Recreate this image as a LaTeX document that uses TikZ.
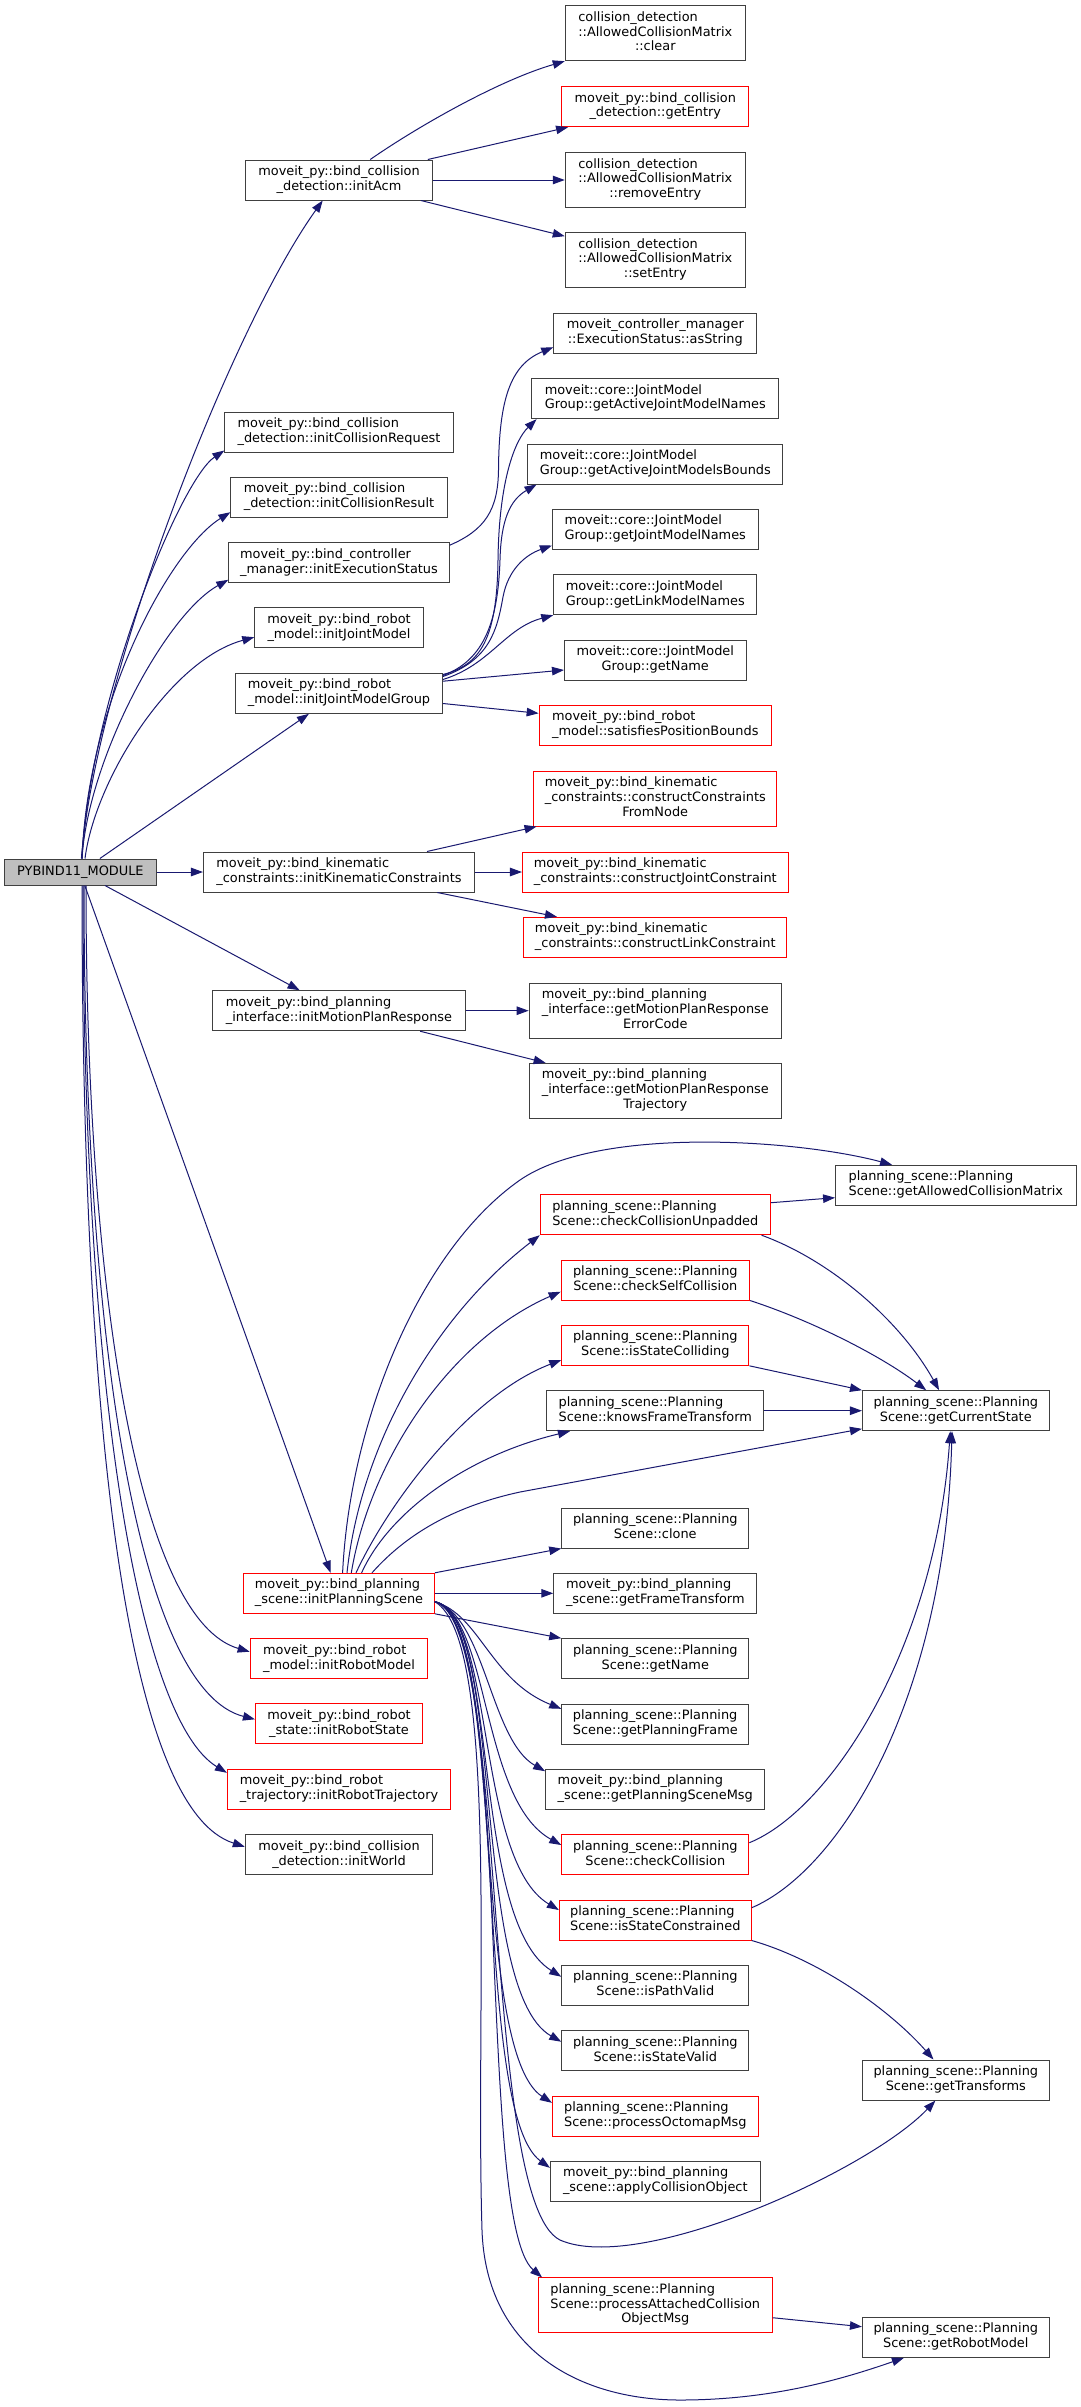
\documentclass[tikz,border=0pt]{standalone}
\usepackage{fontspec}
\setmainfont{DejaVu Sans}
\usetikzlibrary{arrows.meta}
\definecolor{navyc}{HTML}{191970}
\definecolor{bdr}{HTML}{404040}
\definecolor{rootfill}{HTML}{BFBFBF}
\newcommand\cgL[2]{\begin{tabular}{@{}l@{}}#1\\\multicolumn{1}{@{}c@{}}{#2}\end{tabular}}
\newcommand\cgLL[3]{\begin{tabular}{@{}l@{}}#1\\#2\\\multicolumn{1}{@{}c@{}}{#3}\end{tabular}}
\newcommand\cgN[7]{\node[#2, minimum width=#5pt, minimum height=#6pt] (#1) at (#3,#4) {#7};}
\begin{document}
\begin{tikzpicture}[x=1pt,y=-1pt,
 bx/.style={draw=bdr, line width=1pt, fill=white, inner sep=0pt, font={\fontsize{12.9}{14.7}\selectfont}, text=black},
 bxr/.style={bx, draw=red},
 bxroot/.style={bx, fill=rootfill},
 cg/.style={draw=navyc, line width=1pt, -{Triangle[length=12pt,width=8.5pt]}}]
\path[use as bounding box, fill=white] (0,0) rectangle (1081,2407);

% ---- column 0/1
\cgN{root}{bxroot}{80.4}{872}{151.2}{26}{PYBIND11\_MODULE}
\cgN{initAcm}{bx}{339}{180}{186.7}{40}{\cgL{moveit\_py::bind\_collision}{\_detection::initAcm}}
\cgN{initCReq}{bx}{339}{432}{228.3}{40}{\cgL{moveit\_py::bind\_collision}{\_detection::initCollisionRequest}}
\cgN{initCRes}{bx}{339}{497.3}{216.3}{40}{\cgL{moveit\_py::bind\_collision}{\_detection::initCollisionResult}}
\cgN{initES}{bx}{339}{562.7}{220.4}{40}{\cgL{moveit\_py::bind\_controller}{\_manager::initExecutionStatus}}
\cgN{initJM}{bx}{339}{627.8}{168.5}{40}{\cgL{moveit\_py::bind\_robot}{\_model::initJointModel}}
\cgN{initJMG}{bx}{339}{693.3}{206.9}{40}{\cgL{moveit\_py::bind\_robot}{\_model::initJointModelGroup}}
\cgN{initKC}{bx}{339}{872}{271.1}{40}{\cgL{moveit\_py::bind\_kinematic}{\_constraints::initKinematicConstraints}}
\cgN{initMPR}{bx}{339}{1010.7}{252.1}{40}{\cgL{moveit\_py::bind\_planning}{\_interface::initMotionPlanResponse}}
\cgN{initPS}{bxr}{339}{1593.3}{190.8}{40}{\cgL{moveit\_py::bind\_planning}{\_scene::initPlanningScene}}
\cgN{initRM}{bxr}{339}{1658.7}{177.7}{40}{\cgL{moveit\_py::bind\_robot}{\_model::initRobotModel}}
\cgN{initRS}{bxr}{339}{1723.9}{167.1}{40}{\cgL{moveit\_py::bind\_robot}{\_state::initRobotState}}
\cgN{initRT}{bxr}{339}{1789.3}{223.2}{40}{\cgL{moveit\_py::bind\_robot}{\_trajectory::initRobotTrajectory}}
\cgN{initW}{bx}{339}{1854.7}{187.4}{40}{\cgL{moveit\_py::bind\_collision}{\_detection::initWorld}}

% ---- column 2
\cgN{clear}{bx}{655.3}{33.2}{180.1}{55}{\cgLL{collision\_detection}{::AllowedCollisionMatrix}{::clear}}
\cgN{getEntry}{bxr}{655.3}{106.7}{186.7}{40}{\cgL{moveit\_py::bind\_collision}{\_detection::getEntry}}
\cgN{removeEntry}{bx}{655.3}{180}{180.1}{54.6}{\cgLL{collision\_detection}{::AllowedCollisionMatrix}{::removeEntry}}
\cgN{setEntry}{bx}{655.3}{260}{180.1}{54.6}{\cgLL{collision\_detection}{::AllowedCollisionMatrix}{::setEntry}}
\cgN{asString}{bx}{655.3}{333.3}{203.1}{40}{\cgL{moveit\_controller\_manager}{::ExecutionStatus::asString}}
\cgN{gAJMN}{bx}{655.3}{398.7}{246.7}{40}{\cgL{moveit::core::JointModel}{Group::getActiveJointModelNames}}
\cgN{gAJMB}{bx}{655.3}{464}{254.9}{40}{\cgL{moveit::core::JointModel}{Group::getActiveJointModelsBounds}}
\cgN{gJMN}{bx}{655.3}{529.3}{205.7}{40}{\cgL{moveit::core::JointModel}{Group::getJointModelNames}}
\cgN{gLMN}{bx}{655.3}{594.7}{203.1}{40}{\cgL{moveit::core::JointModel}{Group::getLinkModelNames}}
\cgN{gNameJ}{bx}{655.3}{660}{181.6}{40}{\cgL{moveit::core::JointModel}{Group::getName}}
\cgN{satPB}{bxr}{655.3}{725.3}{232.3}{40}{\cgL{moveit\_py::bind\_robot}{\_model::satisfiesPositionBounds}}
\cgN{cCFN}{bxr}{655.3}{798.7}{243.1}{54.7}{\cgLL{moveit\_py::bind\_kinematic}{\_constraints::constructConstraints}{FromNode}}
\cgN{cJC}{bxr}{655.3}{872}{265.7}{40}{\cgL{moveit\_py::bind\_kinematic}{\_constraints::constructJointConstraint}}
\cgN{cLC}{bxr}{655.3}{937.3}{263.1}{40}{\cgL{moveit\_py::bind\_kinematic}{\_constraints::constructLinkConstraint}}
\cgN{errC}{bx}{655.3}{1010.7}{252.3}{54.7}{\cgLL{moveit\_py::bind\_planning}{\_interface::getMotionPlanResponse}{ErrorCode}}
\cgN{traj}{bx}{655.3}{1090.7}{252.3}{54.7}{\cgLL{moveit\_py::bind\_planning}{\_interface::getMotionPlanResponse}{Trajectory}}
\cgN{cCU}{bxr}{655.3}{1214.7}{230.1}{40}{\cgL{planning\_scene::Planning}{Scene::checkCollisionUnpadded}}
\cgN{cSC}{bxr}{655.3}{1280}{188.3}{40}{\cgL{planning\_scene::Planning}{Scene::checkSelfCollision}}
\cgN{iSColl}{bxr}{655.3}{1345.3}{187.1}{40}{\cgL{planning\_scene::Planning}{Scene::isStateColliding}}
\cgN{kFT}{bx}{655.3}{1410.7}{217.1}{40}{\cgL{planning\_scene::Planning}{Scene::knowsFrameTransform}}
\cgN{clone}{bx}{655.3}{1528}{187.1}{40}{\cgL{planning\_scene::Planning}{Scene::clone}}
\cgN{gFT}{bx}{655.3}{1593.3}{203.1}{40}{\cgL{moveit\_py::bind\_planning}{\_scene::getFrameTransform}}
\cgN{gNameP}{bx}{655.3}{1658.7}{187.1}{40}{\cgL{planning\_scene::Planning}{Scene::getName}}
\cgN{gPF}{bx}{655.3}{1724}{187.1}{40}{\cgL{planning\_scene::Planning}{Scene::getPlanningFrame}}
\cgN{gPSM}{bx}{655.3}{1789.3}{219.3}{40}{\cgL{moveit\_py::bind\_planning}{\_scene::getPlanningSceneMsg}}
\cgN{cColl}{bxr}{655.3}{1854.7}{187.1}{40}{\cgL{planning\_scene::Planning}{Scene::checkCollision}}
\cgN{iSCons}{bxr}{655.3}{1920}{191.9}{40}{\cgL{planning\_scene::Planning}{Scene::isStateConstrained}}
\cgN{iPV}{bx}{655.3}{1985.3}{187.1}{40}{\cgL{planning\_scene::Planning}{Scene::isPathValid}}
\cgN{iSV}{bx}{655.3}{2050.7}{187.1}{40}{\cgL{planning\_scene::Planning}{Scene::isStateValid}}
\cgN{pOM}{bxr}{655.3}{2116}{205.7}{40}{\cgL{planning\_scene::Planning}{Scene::processOctomapMsg}}
\cgN{aCO}{bx}{655.3}{2181.3}{209.7}{40}{\cgL{moveit\_py::bind\_planning}{\_scene::applyCollisionObject}}
\cgN{pACOM}{bxr}{655.3}{2305.3}{233.8}{54.7}{\cgLL{planning\_scene::Planning}{Scene::processAttachedCollision}{ObjectMsg}}

% ---- column 3
\cgN{gACM}{bx}{955.8}{1185.3}{240.5}{40}{\cgL{planning\_scene::Planning}{Scene::getAllowedCollisionMatrix}}
\cgN{gCS}{bx}{955.8}{1410.7}{186.7}{40}{\cgL{planning\_scene::Planning}{Scene::getCurrentState}}
\cgN{gT}{bx}{955.8}{2080}{186.7}{40}{\cgL{planning\_scene::Planning}{Scene::getTransforms}}
\cgN{gRM}{bx}{955.8}{2337.3}{186.7}{40}{\cgL{planning\_scene::Planning}{Scene::getRobotModel}}

% ---- edges from root
\draw[cg] ([xshift=1pt]root.north) .. controls (95,680) and (230,330) .. ([xshift=-16.3pt]initAcm.south);
\draw[cg] ([xshift=1.6pt]root.north) .. controls (90,700) and (180,480) .. ([yshift=2pt]initCReq.south west);
\draw[cg] ([xshift=1.6pt]root.north) .. controls (88,700) and (170,550) .. ([yshift=5.6pt]initCRes.south west);
\draw[cg] ([xshift=1.6pt]root.north) .. controls (88,760) and (165,615) .. ([yshift=3.4pt]initES.south west);
\draw[cg] ([xshift=4.6pt]root.north) .. controls (95,780) and (170,660) .. ([yshift=11.1pt]initJM.south west);
\draw[cg] ([xshift=19.5pt]root.north) -- ([xshift=-30.1pt]initJMG.south);
\draw[cg] (root.east) -- (initKC.west);
\draw[cg] ([xshift=24.6pt]root.south) -- ([xshift=-39.4pt]initMPR.north);
\draw[cg] ([xshift=4.4pt]root.south) -- ([xshift=-8.4pt]initPS.north);
\draw[cg] ([xshift=5.6pt]root.south) .. controls (86,1300) and (140,1620) .. ([yshift=7pt]initRM.west);
\draw[cg] ([xshift=3.6pt]root.south) .. controls (84,1350) and (140,1690) .. ([yshift=4.6pt]initRS.west);
\draw[cg] ([xshift=2.6pt]root.south) .. controls (83,1400) and (140,1720) .. ([yshift=-4pt]initRT.north west);
\draw[cg] ([xshift=1.6pt]root.south) .. controls (82,1450) and (130,1810) .. ([yshift=8pt]initW.west);

% ---- initAcm
\draw[cg] ([xshift=31.2pt]initAcm.north) .. controls (420,125) and (500,80) .. (clear.south west);
\draw[cg] ([xshift=-5pt]initAcm.north east) -- ([xshift=6.6pt]getEntry.south west);
\draw[cg] (initAcm.east) -- (removeEntry.west);
\draw[cg] ([xshift=-12pt]initAcm.south east) -- ([yshift=-4pt]setEntry.north west);

% ---- initExecutionStatus
\draw[cg] ([yshift=-3pt]initES.north east) .. controls (485,530) and (498,510) .. (498.5,470) .. controls (499,400) and (510,365) .. ([yshift=6.6pt]asString.south west);

% ---- initJointModelGroup
\draw[cg] ([yshift=-1.7pt]initJMG.north east) .. controls (480,665) and (497,640) .. (498,560) .. controls (499,480) and (515,440) .. ([xshift=5.1pt]gAJMN.south west);
\draw[cg] ([yshift=-2.7pt]initJMG.north east) .. controls (485,660) and (498,620) .. (500,560) .. controls (501,520) and (510,500) .. ([xshift=9.2pt]gAJMB.south west);
\draw[cg] ([yshift=-3.7pt]initJMG.north east) .. controls (490,660) and (497,630) .. (503,597) .. controls (508,570) and (525,555) .. ([yshift=4.3pt]gJMN.south west);
\draw[cg] ([yshift=-6.7pt]initJMG.north east) .. controls (490,665) and (505,628) .. (gLMN.south west);
\draw[cg] ([yshift=-8.4pt]initJMG.north east) -- ([yshift=-10pt]gNameJ.west);
\draw[cg] ([yshift=-30.7pt]initJMG.north east) -- ([yshift=12pt]satPB.west);

% ---- initKinematicConstraints
\draw[cg] ([xshift=88pt]initKC.north) -- ([xshift=3.3pt]cCFN.south west);
\draw[cg] (initKC.east) -- (cJC.west);
\draw[cg] ([xshift=98.3pt]initKC.south) -- ([xshift=33.7pt]cLC.north west);

% ---- initMotionPlanResponse
\draw[cg] (initMPR.east) -- (errC.west);
\draw[cg] ([xshift=81.1pt]initMPR.south) -- ([xshift=17pt]traj.north west);

% ---- initPlanningScene
\draw[cg] ([xshift=3.6pt]initPS.north) .. controls (350,1420) and (420,1250) .. (520,1180) .. controls (600,1125) and (800,1140) .. ([xshift=57pt]gACM.north west);
\draw[cg] ([xshift=8pt]initPS.north) .. controls (360,1450) and (430,1320) .. (cCU.south west);
\draw[cg] ([xshift=12.3pt]initPS.north) .. controls (370,1460) and (450,1340) .. ([yshift=-11.7pt]cSC.west);
\draw[cg] ([xshift=17pt]initPS.north) .. controls (390,1500) and (470,1395) .. ([yshift=-14.7pt]iSColl.west);
\draw[cg] ([xshift=22.6pt]initPS.north) .. controls (390,1510) and (470,1455) .. ([xshift=23.7pt]kFT.south west);
\draw[cg] ([xshift=33pt]initPS.north) .. controls (410,1530) and (460,1505) .. (520,1492) -- ([yshift=2.4pt]gCS.south west);
\draw[cg] (initPS.north east) -- (clone.south west);
\draw[cg] (initPS.east) -- (gFT.west);
\draw[cg] (initPS.south east) -- (gNameP.north west);
\draw[cg] ([yshift=-8.4pt]initPS.east) .. controls (480,1615) and (490,1680) .. ([yshift=-5.3pt]gPF.north west);
\draw[cg] ([yshift=-8.4pt]initPS.east) .. controls (485,1615) and (490,1740) .. ([yshift=-2.4pt]gPSM.north west);
\draw[cg] ([yshift=-8.4pt]initPS.east) .. controls (490,1615) and (480,1800) .. ([yshift=9.7pt]cColl.west);
\draw[cg] ([yshift=-8.4pt]initPS.east) .. controls (495,1615) and (475,1860) .. ([yshift=10pt]iSCons.west);
\draw[cg] ([yshift=-8.4pt]initPS.east) .. controls (500,1615) and (470,1920) .. ([yshift=8.6pt]iPV.west);
\draw[cg] ([yshift=-8.4pt]initPS.east) .. controls (505,1615) and (470,1990) .. ([yshift=9pt]iSV.west);
\draw[cg] ([yshift=-8.4pt]initPS.east) .. controls (505,1620) and (470,2050) .. ([yshift=-7.3pt]pOM.north west);
\draw[cg] ([yshift=-8.4pt]initPS.east) .. controls (510,1620) and (470,2110) .. ([yshift=-7pt]aCO.north west);
\draw[cg] ([yshift=-8.4pt]initPS.east) .. controls (510,1620) and (480,2200) .. (560,2240) .. controls (640,2275) and (870,2170) .. ([xshift=-20.4pt]gT.south);
\draw[cg] ([yshift=-8.4pt]initPS.east) .. controls (515,1620) and (475,2220) .. ([xshift=4.2pt]pACOM.north west);
\draw[cg] ([yshift=-8.4pt]initPS.east) .. controls (500,1640) and (475,2000) .. (482,2230) .. controls (486,2350) and (580,2400) .. (680,2400) .. controls (770,2400) and (840,2380) .. ([xshift=-51.9pt]gRM.south);

% ---- column 2 -> column 3
\draw[cg] ([yshift=12pt]cCU.east) -- ([yshift=-12.4pt]gACM.west);
\draw[cg] ([xshift=-9.3pt]cCU.south east) .. controls (830,1260) and (900,1320) .. ([xshift=-16.7pt]gCS.north);
\draw[cg] (cSC.south east) .. controls (810,1320) and (880,1355) .. ([xshift=-29.6pt]gCS.north);
\draw[cg] (iSColl.south east) -- (gCS.north west);
\draw[cg] (kFT.east) -- (gCS.west);
\draw[cg] ([yshift=12pt]cColl.east) .. controls (830,1810) and (935,1650) .. ([xshift=-5.5pt]gCS.south);
\draw[cg] ([yshift=12.3pt]iSCons.east) .. controls (840,1870) and (945,1700) .. ([xshift=-3.8pt]gCS.south);
\draw[cg] (iSCons.south east) .. controls (820,1960) and (890,2010) .. ([xshift=-22.3pt]gT.north);
\draw[cg] ([yshift=-12.4pt]pACOM.east) -- ([yshift=10.6pt]gRM.west);
\end{tikzpicture}
\end{document}
